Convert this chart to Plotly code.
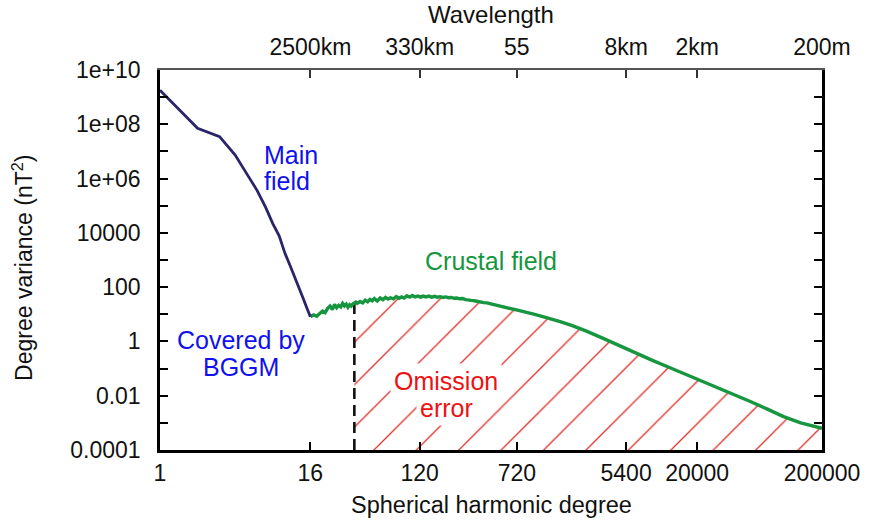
import math
import plotly.graph_objects as go

# ---------------- data ----------------
main_degree = list(range(1, 17))
main_variance = [1.8e9, 7.1e7, 3.5e7, 7.4e6, 1.4e6, 3.6e5, 8.9e4, 2.2e4,
                 7.8e3, 1.8e3, 630, 240, 93, 39, 17, 8.1]

crustal_degree = [16, 17, 18, 19, 20, 21, 22, 23, 24, 25, 26, 27, 28, 29, 30,
                  31, 32, 33, 34, 35, 36, 37, 38, 40, 42, 44, 46, 48, 50, 52,
                  55, 58, 61, 64, 67, 70, 74, 78, 82, 86, 90, 95, 100, 105,
                  110, 116, 122, 128, 135, 142, 150, 158, 166, 175, 184, 194,
                  204, 215, 226, 238, 250, 265, 280, 295, 310, 330, 350, 370,
                  390, 415, 440, 470, 500, 540, 600, 700, 800, 900, 1000,
                  1200, 1400, 1600, 2000, 2600, 3500, 4780, 6500, 8770,
                  12000, 16000, 22000, 29400, 40000, 53900, 73000, 98500,
                  135000, 180000, 200000]
crustal_variance = [8.1, 9.5, 8.5, 11.2, 13.2, 11.5, 16.6, 20.0, 15.1, 22.9,
                    17.4, 21.4, 18.6, 25.1, 20.4, 23.4, 18.2, 22.4, 20.0, 24.0,
                    25.1, 28.2, 25.1, 29.5, 26.3, 33.1, 28.8, 35.5, 31.6, 38.0,
                    30.9, 39.8, 34.7, 41.7, 36.3, 40.7, 37.2, 44.7, 38.9, 43.7,
                    39.8, 47.9, 42.7, 49.0, 43.7, 46.8, 42.7, 46.8, 43.7, 46.8,
                    42.7, 45.7, 42.7, 44.7, 41.7, 43.7, 40.7, 41.7, 38.9, 39.8,
                    37.2, 38.0, 34.7, 34.7, 32.4, 31.6, 29.5, 28.8, 26.9, 26.3,
                    24.5, 23.4, 21.9, 20.4, 17.8, 14.8, 12.9, 11.5, 10.0,
                    7.9, 6.5, 5.4, 3.8, 2.4, 1.32, 0.69, 0.36, 0.20,
                    0.11, 0.063, 0.035, 0.020, 0.0112, 0.0060, 0.0032, 0.0017,
                    0.0010, 0.00071, 0.00063]

bggm_max_degree = 36          # limit of the BGGM model (dashed line)

x_tick_degrees = [1, 16, 120, 720, 5400, 20000, 200000]
x_tick_labels = ["1", "16", "120", "720", "5400", "20000", "200000"]
top_tick_degrees = [16, 120, 720, 5400, 20000, 200000]
top_tick_labels = ["2500km", "330km", "55", "8km", "2km", "200m"]

y_tick_values = [1e-4, 1e-2, 1e0, 1e2, 1e4, 1e6, 1e8, 1e10]
y_tick_labels = ["0.0001", "0.01", "1", "100", "10000", "1e+06", "1e+08",
                 "1e+10"]
y_minor_values = [1e-3, 1e-1, 1e1, 1e3, 1e5, 1e7, 1e9]

x_min, x_max = 1, 200000
y_min, y_max = 1e-4, 1e10

# ---------------- figure ----------------
FONT = "Liberation Sans, Arial, sans-serif"
NAVY = "#2a2468"
GREEN = "#16963f"
BLUE = "#1010f0"
RED = "#ee1111"
HATCH = "#e0302a"
TICK_SIZE = 23
NOTE_SIZE = 25

idx = crustal_degree.index(bggm_max_degree)
hatch_x = crustal_degree[idx:]
hatch_y = crustal_variance[idx:]

fig = go.Figure()

# baseline for hatched omission-error area
fig.add_trace(go.Scatter(x=hatch_x, y=[y_min] * len(hatch_x), mode="lines",
                         line=dict(width=0, color="rgba(0,0,0,0)"),
                         showlegend=False, hoverinfo="skip"))
fig.add_trace(go.Scatter(x=hatch_x, y=hatch_y, mode="lines",
                         line=dict(width=0, color="rgba(0,0,0,0)"),
                         fill="tonexty", fillcolor="rgba(0,0,0,0)",
                         fillpattern=dict(shape="/", fgcolor=HATCH,
                                          bgcolor="rgba(0,0,0,0)",
                                          size=30, solidity=0.045,
                                          fillmode="replace"),
                         showlegend=False, hoverinfo="skip"))

# dashed BGGM limit
fig.add_trace(go.Scatter(x=[bggm_max_degree, bggm_max_degree],
                         y=[y_min, crustal_variance[idx]], mode="lines",
                         line=dict(color="#111111", width=2.6,
                                   dash="11px,6px"),
                         showlegend=False))

fig.add_trace(go.Scatter(x=crustal_degree, y=crustal_variance, mode="lines",
                         line=dict(color=GREEN, width=3.4),
                         showlegend=False))
fig.add_trace(go.Scatter(x=main_degree, y=main_variance, mode="lines",
                         line=dict(color=NAVY, width=2.8),
                         showlegend=False))

# invisible trace to anchor the top axis
fig.add_trace(go.Scatter(x=[x_min, x_max], y=[y_min, y_max], mode="none",
                         xaxis="x2", showlegend=False, hoverinfo="skip"))

lx0, lx1 = math.log10(x_min), math.log10(x_max)
ly0, ly1 = math.log10(y_min), math.log10(y_max)


def note(text, x, y, color, xanchor="center", bg=None):
    d = dict(text=text, x=x, y=y, xanchor=xanchor, yanchor="middle",
             showarrow=False, font=dict(size=NOTE_SIZE, color=color))
    if bg:
        d["bgcolor"] = bg
        d["borderpad"] = 3
    return d


fig.update_layout(
    width=872, height=524,
    margin=dict(l=160, r=42, t=70, b=74),
    plot_bgcolor="white", paper_bgcolor="white",
    font=dict(family=FONT, size=TICK_SIZE, color="#111111"),
    xaxis=dict(type="log", range=[lx0, lx1], tickvals=x_tick_degrees,
               ticktext=x_tick_labels, ticks="inside", ticklen=8,
               tickwidth=1.5, tickcolor="black", showline=True,
               linewidth=3, linecolor="black", mirror=False,
               showgrid=False, zeroline=False, ticklabelstandoff=0,
               tickfont=dict(size=TICK_SIZE)),
    xaxis2=dict(type="log", range=[lx0, lx1], overlaying="x", side="top",
                tickvals=top_tick_degrees, ticktext=top_tick_labels,
                ticks="inside", ticklen=8, tickwidth=1.5, tickcolor="#333",
                showline=True, linewidth=1.5, linecolor="#555555",
                showgrid=False, zeroline=False, ticklabelstandoff=4,
                tickfont=dict(size=TICK_SIZE)),
    yaxis=dict(type="log", range=[ly0, ly1], tickvals=y_tick_values,
               ticktext=y_tick_labels, ticks="inside", ticklen=8,
               tickwidth=1.5, tickcolor="black", showline=True,
               linewidth=2.5, linecolor="black", mirror="ticks",
               minor=dict(tickvals=y_minor_values, ticks="inside",
                          ticklen=8, tickwidth=1.5, tickcolor="black"),
               showgrid=False, zeroline=False, ticklabelstandoff=12,
               tickfont=dict(size=TICK_SIZE)),
    annotations=[
        dict(text="Wavelength", xref="paper", yref="paper", x=0.5, y=1.147,
             xanchor="center", yanchor="middle",
             showarrow=False, font=dict(size=24)),
        dict(text="Spherical harmonic degree", xref="paper", yref="paper",
             x=0.5, y=-0.145, xanchor="center", yanchor="middle",
             showarrow=False, font=dict(size=23.5)),
        dict(text="Degree variance (nT<sup>2</sup>)", xref="paper",
             yref="paper", x=-0.208, y=0.48, textangle=-90,
             xanchor="center", yanchor="middle",
             showarrow=False, font=dict(size=23)),
        note("Main", 0.815, 6.88, BLUE, "left"),
        note("field", 0.815, 5.90, BLUE, "left"),
        note("Covered by", 0.65, 0.07, BLUE),
        note("BGGM", 0.65, -0.96, BLUE),
        note("Crustal field", 2.65, 2.96, GREEN),
        note("Omission", 2.294, -1.47, RED, bg="white"),
        note("error", 2.294, -2.47, RED, bg="white"),
    ],
)

fig.write_html("out.html")
